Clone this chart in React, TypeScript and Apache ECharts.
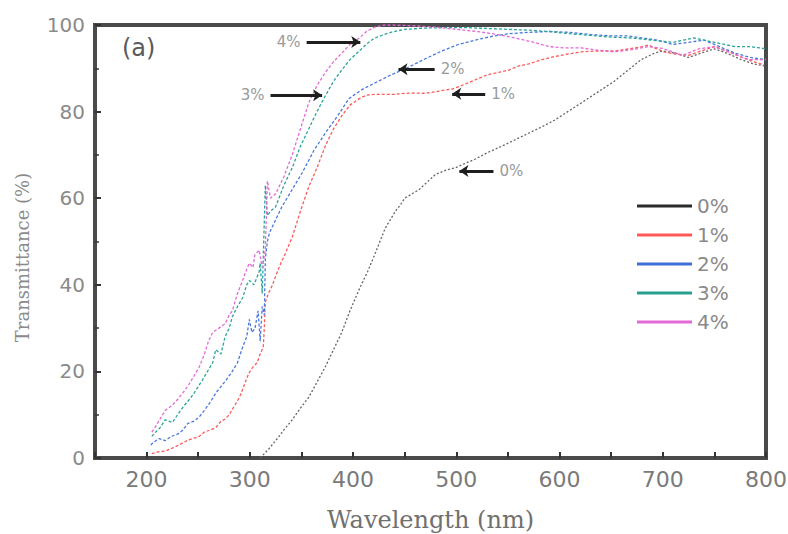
import React, { useEffect, useRef } from 'react';
import * as echarts from 'echarts';

const seriesNames = ['0%', '1%', '2%', '3%', '4%'];
const colors = ['#2b2b2b', '#ff5a5a', '#3f6fd6', '#2a9f90', '#e36ad6'];
const curveColors = ['#666666', '#ff5a5a', '#4a78dc', '#2aa597', '#e36ad6'];

const xTicks = [200, 300, 400, 500, 600, 700, 800];
const yTicks = [0, 20, 40, 60, 80, 100];

// 0 %
const wl0 = [310, 318, 325, 333, 341, 349, 357, 365, 373, 381, 389, 397, 406, 414, 421, 426, 431, 436, 441, 446, 450, 457, 464, 473, 480, 490, 499, 508, 518, 530, 544, 557, 570, 583, 595, 608, 621, 637, 653, 666, 679, 692, 700, 712, 725, 737, 750, 762, 776, 788, 800];
const t0 = [0, 2, 4, 6.5, 8.8, 11.5, 14, 17.5, 21, 25, 29, 34, 39, 43, 47, 50, 53, 55, 57, 58.5, 60, 61, 62, 64, 65.5, 66.5, 67, 68, 69, 70.5, 72, 73.5, 75, 76.5, 78, 80, 82, 84.5, 87, 89.5, 92, 93.5, 94, 93.5, 92.5, 93.5, 94.5, 93.5, 92, 91, 90.5];

// 1 %
const wl1 = [205, 211, 218, 222, 228, 235, 241, 246, 251, 256, 262, 267, 272, 276, 280, 285, 290, 294, 299, 303, 307, 310, 313, 314, 315, 318, 322, 325, 330, 334, 341, 349, 357, 365, 373, 381, 389, 397, 406, 413, 421, 430, 440, 450, 460, 470, 480, 490, 496, 505, 518, 530, 540, 551, 560, 570, 583, 595, 608, 621, 635, 653, 668, 680, 686, 693, 701, 712, 725, 737, 750, 762, 776, 788, 798];
const t1 = [1, 1.4, 1.6, 2, 2.6, 3.5, 4.2, 4.6, 5, 6, 6.5, 7, 8.5, 9, 10, 12, 14, 16.5, 19.6, 21, 22, 24, 25.6, 30, 36, 38, 40, 42, 45, 47, 51, 57, 62.6, 67, 72, 76, 79, 81.5, 83, 83.8, 84, 84, 84, 84.2, 84.3, 84.2, 84.6, 85, 85.2, 86, 87.3, 88.5, 89, 89.6, 90.5, 91, 92, 92.7, 93.3, 93.8, 94, 94, 94.5, 95, 95.4, 94.6, 93.8, 93.3, 93, 94, 95, 94, 92.6, 91.5, 90.8];

// 2 %
const wl2 = [204, 206, 212, 218, 224, 230, 235, 240, 246, 251, 256, 262, 267, 272, 277, 283, 288, 293, 297, 299.5, 302, 305, 308, 310, 312, 314, 315, 317, 319, 325, 331, 341, 351, 362, 373, 385, 396, 408, 421, 437, 454, 470, 486, 502, 518, 535, 551, 570, 590, 610, 630, 650, 665, 680, 695, 710, 725, 740, 755, 770, 785, 800];
const t2 = [3, 3.5, 4.5, 4, 5, 5.5, 6.4, 8, 8.5, 9.5, 11, 13, 15, 16.5, 18, 20, 22, 25.6, 28, 32, 29, 30, 34, 27, 35, 33, 46, 50, 52, 55, 58, 62, 66, 71, 75, 79, 83, 85, 86.6, 88.5, 90.3, 92.2, 94, 95.5, 96.5, 97.4, 98, 98.3, 98.5, 98.3, 97.8, 97.5, 97.5, 97, 96.5, 95.5, 96, 96.5, 95, 93.5, 92.5, 92];

// 3 %
const wl3 = [205, 208, 213, 218, 225, 230, 236, 241, 246, 254, 259, 264, 267, 272, 276, 280, 283, 288, 293, 297, 299.5, 304, 309, 310, 312, 315, 317, 320, 325, 333, 341, 349, 357, 365, 373, 381, 389, 397, 406, 414, 421, 430, 438, 450, 470, 490, 510, 530, 550, 570, 590, 610, 630, 650, 670, 690, 710, 730, 750, 770, 785, 800];
const t3 = [5, 5.8, 7, 8.8, 8.2, 10, 12, 13.4, 15, 18, 20, 22, 25, 24, 28, 30, 32.6, 35, 37, 40, 41, 40, 43, 45, 38, 63, 56, 57, 58, 63, 67, 72, 76, 80, 83.6, 87, 89.6, 92, 94, 95.8, 97, 97.8, 98.4, 99, 99.3, 99.4, 99.4, 99.2, 99, 98.8, 98.5, 98, 97.6, 97.2, 97, 96.5, 96, 97, 96, 95, 95, 94.5];

// 4 %
const wl4 = [205, 208, 213, 218, 224, 230, 235, 241, 246, 251, 256, 260, 264, 270, 276, 280, 283, 288, 293, 296, 299.5, 303, 305, 309, 312, 315, 317, 320, 325, 333, 341, 349, 357, 365, 373, 381, 389, 397, 406, 413, 421, 430, 440, 460, 480, 500, 520, 540, 557, 575, 590, 605, 621, 637, 653, 670, 686, 700, 719, 735, 750, 767, 783, 800];
const t4 = [6, 7, 9, 11, 12, 13.5, 15, 17, 19, 21, 24, 27, 29, 30, 31, 33, 34, 38, 41, 43, 45, 44, 47, 48, 44, 48, 64, 60, 61, 65, 70, 76, 82, 86, 89, 91.5, 93.5, 95.5, 97, 98.5, 99.5, 100, 100, 99.8, 99.5, 99, 98.5, 97.8, 97, 96, 95, 94.7, 94.7, 94.2, 93.8, 94.3, 95, 94.6, 93, 94.5, 95, 93.5, 92, 92];

const wls = [wl0, wl1, wl2, wl3, wl4];
const ts = [t0, t1, t2, t3, t4];

// annotation arrows: [fromX, fromY, toX(arrow tip), toY]
const arrows = [
  [536, 66.3, 503, 66.3],
  [528, 84.1, 496, 84.1],
  [479, 89.8, 444, 89.8],
  [320, 83.8, 370, 83.8],
  [355, 96.1, 407, 96.1],
];

export default function App() {
  const ref = useRef<HTMLDivElement>(null);
  useEffect(() => {
    const chart = echarts.init(ref.current!, null, { renderer: 'svg' });
    const series = seriesNames.map((name, i) => ({
      name,
      type: 'line',
      showSymbol: false,
      symbol: 'none',
      silent: true,
      data: wls[i].map((w, j) => [w, ts[i][j]]),
      lineStyle: { color: curveColors[i], width: 1.3, type: i === 0 ? [2, 2] : [3, 2] },
      itemStyle: { color: colors[i] },
      markLine: {
        silent: true,
        symbol: ['none', 'arrow'],
        symbolSize: 9,
        lineStyle: { color: '#1e1e1e', width: 3, type: 'solid' },
        label: {
          show: true,
          position: 'start',
          formatter: name,
          color: '#9a9a9a',
          fontSize: 15,
          fontFamily: 'DejaVu Sans',
          distance: 6,
        },
        data: [[
          { coord: [arrows[i][0], arrows[i][1]] },
          { coord: [arrows[i][2], arrows[i][3]] },
        ]],
      },
    }));
    chart.setOption({
      animation: false,
      backgroundColor: '#ffffff',
      grid: {
        left: 95,
        right: 22,
        top: 25,
        bottom: 76,
        outerBoundsMode: 'none',
        show: true,
        borderColor: '#4a4a4a',
        borderWidth: 4,
      },
      legend: {
        show: true,
        orient: 'vertical',
        left: 632,
        top: 191,
        itemWidth: 55,
        itemHeight: 3,
        itemGap: 9,
        icon: 'rect',
        selectedMode: false,
        textStyle: { fontFamily: 'DejaVu Sans', fontSize: 20, color: '#8a8a8a' },
        data: seriesNames,
      },
      xAxis: {
        type: 'value',
        min: 150,
        max: 800,
        interval: 50,
        name: 'Wavelength (nm)',
        nameLocation: 'middle',
        nameGap: 50,
        nameTextStyle: { fontFamily: 'DejaVu Serif', fontSize: 24, color: '#707070' },
        axisLine: { show: false },
        splitLine: { show: false },
        axisTick: { show: true, inside: true, length: 6, lineStyle: { color: '#333', width: 2 } },
        axisLabel: {
          interval: 0,
          margin: 10,
          fontFamily: 'DejaVu Sans',
          fontSize: 22,
          color: '#7a7a7a',
          formatter: (v: number) => (xTicks.indexOf(v) >= 0 ? String(v) : ''),
        },
      },
      yAxis: {
        type: 'value',
        min: 0,
        max: 100,
        interval: 20,
        name: 'Transmittance (%)',
        nameLocation: 'middle',
        nameGap: 64,
        nameTextStyle: { fontFamily: 'DejaVu Serif', fontSize: 18, color: '#8a8a8a', padding: [0, 32, 0, 0] },
        axisLine: { show: false },
        splitLine: { show: false },
        axisTick: { show: true, inside: true, length: 6, lineStyle: { color: '#333', width: 2 } },
        minorTick: { show: true, splitNumber: 2, length: 4, lineStyle: { color: '#333', width: 1.5 } },
        axisLabel: {
          margin: 10,
          fontFamily: 'DejaVu Sans',
          fontSize: 20,
          color: '#8a8a8a',
          formatter: (v: number) => (yTicks.indexOf(v) >= 0 ? String(v) : ''),
        },
      },
      graphic: [
        {
          type: 'text',
          left: 122,
          top: 36,
          style: { text: '(a)', fontFamily: 'DejaVu Sans', fontSize: 24, fill: '#5a5a5a' },
        },
      ],
      series,
    });
    return () => chart.dispose();
  }, []);
  return <div ref={ref} style={{ position: 'fixed', left: 0, top: 0, width: 788, height: 534 }} />;
}
